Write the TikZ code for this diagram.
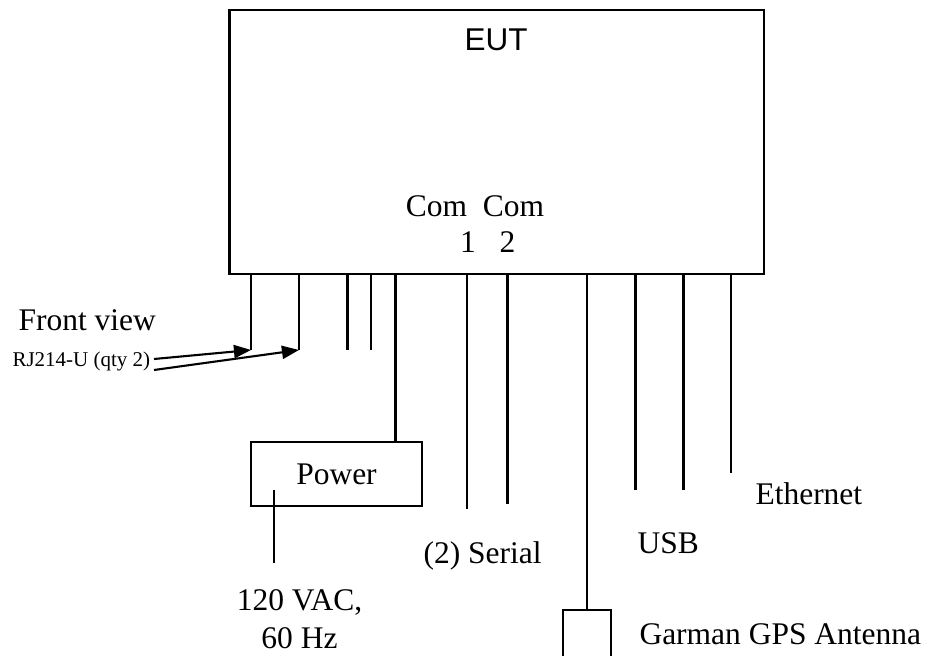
\documentclass[tikz,border=0pt]{standalone}
\usepackage{fontspec}
\setmainfont{Liberation Serif}
\newfontfamily\headfont{Liberation Sans}
\usetikzlibrary{arrows.meta}
\def\px{0.381pt}
\tikzset{
    unit/.style={draw, line width=0.8pt, inner sep=0pt, outer sep=0pt},
    lbl/.style={inner sep=0pt, font=\fontsize{12}{14.4}\selectfont},
    small lbl/.style={inner sep=0pt, font=\fontsize{8}{9.6}\selectfont},
    port/.style={line width=0.8pt},
    pointer/.style={line width=0.8pt, -{Triangle[length=6.5pt, width=5pt]}}
}
\begin{document}
\begin{tikzpicture}[x=\px, y=-\px]
    \useasboundingbox (0,0) rectangle (925,656);
    \clip (0,0) rectangle (925,656);
    % unit under test
    \node[unit, minimum width={534.5*\px}, minimum height={264*\px}] (eut) at (496.75,142) {};
    \node[lbl, font={\headfont\fontsize{12}{14.4}\selectfont}, anchor=base] (eut-title) at (496,51) {EUT};
    \node[lbl, anchor=base] (com) at (475,217) {Com\ \ Com};
    \node[lbl, anchor=base] (com-1) at (468,253) {1};
    \node[lbl, anchor=base] (com-2) at (507.5,253) {2};
    % power supply and its cord
    \node[unit, lbl, minimum width={171*\px}, minimum height={64*\px}] (power) at (336.5,474) {Power};
    \coordinate (cord-top) at (274,490);
    \coordinate (cord-end) at (274,563);
    \draw[port] (cord-top) -- (cord-end);
    % antenna box runs off the bottom
    \node[unit, minimum width={48*\px}, minimum height={70*\px}, anchor=north] (gps) at (587,610) {};
    % cable stubs
    \foreach \x/\y [count=\i] in {251/350, 299/350, 347.5/350, 371/350, 467/509, 507.5/504, 635.5/490, 683.5/490, 731/473}
        \draw[port] (\x,0 |- eut.south) -- (\x,\y) coordinate (stub-\i);
    \draw[port] (395.5,0 |- eut.south) -- (395.5,0 |- power.north);
    \draw[port] (587,0 |- eut.south) -- (gps.north);
    % labels
    \node[lbl, anchor=base west] (front) at (18,331) {Front view};
    \node[small lbl, anchor=base west] (rj) at (12,367) {RJ214-U (qty 2)};
    \coordinate (rj-a) at (154,359);
    \coordinate (rj-b) at (154,370);
    \draw[pointer] (rj-a) -- (stub-1);
    \draw[pointer] (rj-b) -- (stub-2);
    \node[lbl, anchor=base west] (serial) at (423,563) {(2) Serial};
    \node[lbl, anchor=base west] (usb) at (637,554) {USB};
    \node[lbl, anchor=base west] (ethernet) at (755,505) {Ethernet};
    \node[lbl, anchor=base west] (antenna) at (639,645) {Garman GPS Antenna};
    \node[lbl, anchor=base] (mains) at (299.5,610) {120 VAC,};
    \node[lbl, anchor=base] (mains-hz) at (299.5,648) {60 Hz};
\end{tikzpicture}
\end{document}
